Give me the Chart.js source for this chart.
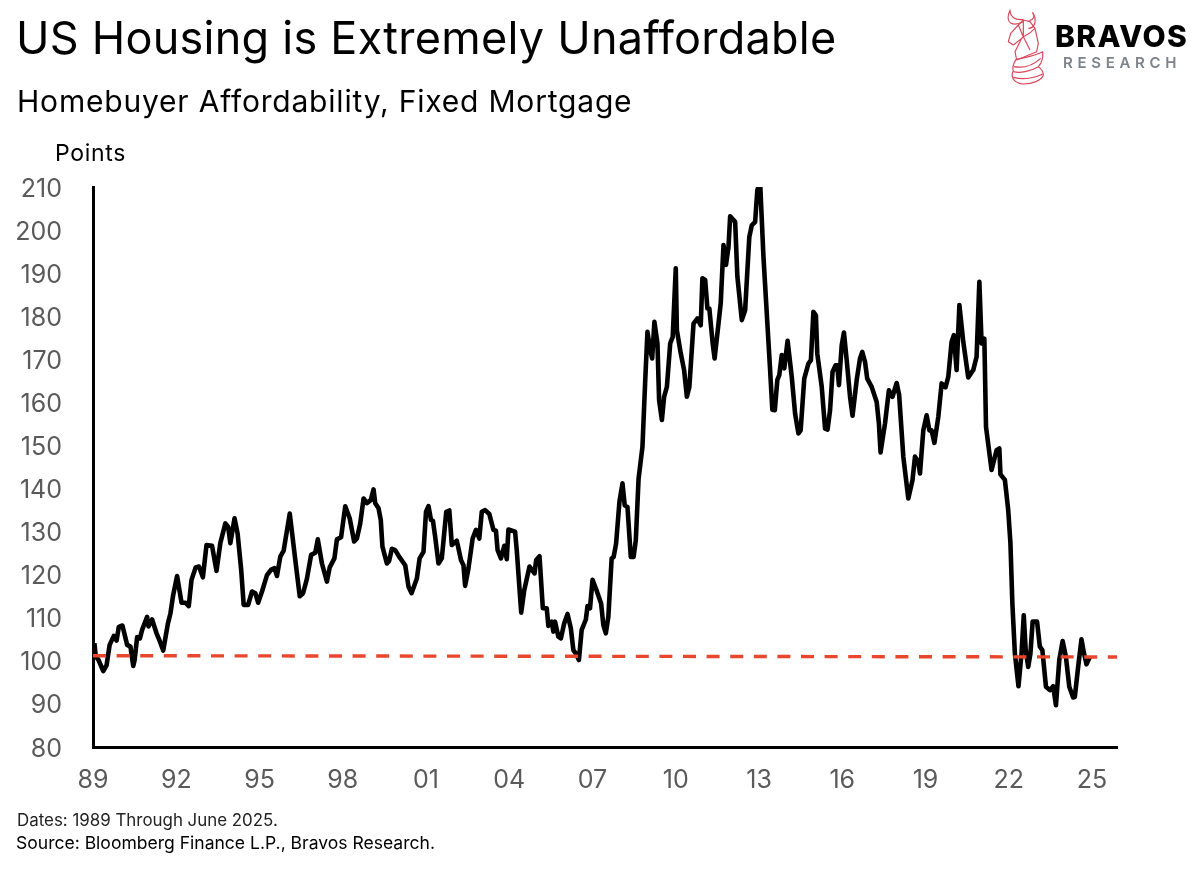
<!DOCTYPE html>
<html>
<head>
<meta charset="utf-8">
<script src="https://cdn.jsdelivr.net/npm/chart.js@4/dist/chart.umd.min.js"></script>
<style>
  html, body { margin: 0; padding: 0; background: #fff; }
  body { width: 1200px; height: 877px; position: relative; overflow: hidden; font-family: Inter, sans-serif; color: #000; }
  canvas { position: absolute; left: 0; top: 0; }
  .txt { position: absolute; white-space: nowrap; line-height: 1; }
  #title { left: 16px; top: 15px; font-size: 45px; letter-spacing: 0.25px; }
  #subtitle { left: 17px; top: 86px; font-size: 30px; letter-spacing: 0.8px; }
  #unit { left: 55px; top: 142px; font-size: 23px; letter-spacing: 0.7px; }
  #note1 { left: 17px; top: 812px; font-size: 16.9px; color: #222; }
  #note2 { left: 16px; top: 834px; font-size: 17.55px; }
  #brand { left: 1055px; top: 21px; font-size: 30px; font-weight: 800; letter-spacing: 1.3px; }
  #brand2 { left: 1063px; top: 55px; font-size: 15px; font-weight: 600; letter-spacing: 4.7px; color: #7d838a; }
  #logo { position: absolute; left: 990px; top: 0; }
</style>
</head>
<body>
<canvas id="chart" width="1200" height="877"></canvas>
<div class="txt" id="title">US Housing is Extremely Unaffordable</div>
<div class="txt" id="subtitle">Homebuyer Affordability, Fixed Mortgage</div>
<div class="txt" id="unit">Points</div>
<div class="txt" id="note1">Dates: 1989 Through June 2025.</div>
<div class="txt" id="note2">Source: Bloomberg Finance L.P., Bravos Research.</div>
<div class="txt" id="brand">BRAVOS</div>
<div class="txt" id="brand2">RESEARCH</div>
<svg id="logo" width="210" height="100" viewBox="0 0 630 300" fill="none" stroke="#d9465a" stroke-width="3.5" stroke-linejoin="round">
  <path d="M100 65 C70 80 42 72 60 30 C60 50 75 62 100 58"/>
  <path d="M118 62 C130 60 135 50 128 38 C142 60 135 85 115 85"/>
  <path d="M100 60 L120 65 L135 85 L145 130 L140 155 L80 180 L75 155 L95 115 L70 135 L55 125 L62 100 L85 75 Z"/>
  <path d="M85 75 L100 110 L95 115 M100 60 L100 110 L118 100 L135 85 M100 110 L120 150"/>
  <path d="M78 178 C100 175 140 165 158 155 C160 175 155 190 145 200 C120 215 90 220 70 215 C66 200 70 190 78 178"/>
  <path d="M72 200 C100 205 130 195 152 175"/>
  <path d="M68 215 C62 235 75 250 100 252 C130 252 155 240 160 225 C160 210 150 205 145 200"/>
  <path d="M70 232 C100 240 135 235 158 222"/>
</svg>
<script>
const years = [
  1989.05, 1989.1, 1989.2, 1989.37, 1989.49, 1989.6, 1989.75, 1989.85, 1989.93, 1990.06,
  1990.23, 1990.35, 1990.45, 1990.5, 1990.59, 1990.69, 1990.77, 1990.95, 1991.0, 1991.13,
  1991.29, 1991.41, 1991.53, 1991.7, 1991.79, 1991.89, 1992.03, 1992.19, 1992.33, 1992.45,
  1992.55, 1992.7, 1992.82, 1992.96, 1993.09, 1993.29, 1993.45, 1993.59, 1993.77, 1993.87,
  1993.95, 1994.1, 1994.21, 1994.34, 1994.43, 1994.59, 1994.73, 1994.85, 1994.95, 1995.09,
  1995.27, 1995.42, 1995.54, 1995.63, 1995.75, 1995.87, 1996.09, 1996.29, 1996.45, 1996.57,
  1996.71, 1996.86, 1997.01, 1997.1, 1997.25, 1997.43, 1997.53, 1997.7, 1997.79, 1997.94,
  1998.09, 1998.25, 1998.41, 1998.51, 1998.63, 1998.75, 1998.87, 1999.01, 1999.11, 1999.17,
  1999.29, 1999.37, 1999.43, 1999.59, 1999.67, 1999.77, 1999.89, 2000.05, 2000.25, 2000.37,
  2000.48, 2000.67, 2000.77, 2000.91, 2001.0, 2001.09, 2001.18, 2001.25, 2001.33, 2001.45,
  2001.57, 2001.73, 2001.84, 2001.93, 2002.11, 2002.26, 2002.35, 2002.41, 2002.53, 2002.68,
  2002.8, 2002.92, 2003.01, 2003.13, 2003.28, 2003.43, 2003.52, 2003.58, 2003.7, 2003.82,
  2003.91, 2003.97, 2004.21, 2004.27, 2004.43, 2004.54, 2004.73, 2004.91, 2004.97, 2005.09,
  2005.21, 2005.35, 2005.41, 2005.53, 2005.59, 2005.65, 2005.77, 2005.86, 2005.98, 2006.1,
  2006.22, 2006.31, 2006.41, 2006.51, 2006.61, 2006.76, 2006.82, 2006.91, 2007.0, 2007.15,
  2007.31, 2007.39, 2007.48, 2007.57, 2007.69, 2007.76, 2007.85, 2007.97, 2008.08, 2008.16,
  2008.26, 2008.38, 2008.48, 2008.56, 2008.66, 2008.8, 2008.9, 2008.98, 2009.08, 2009.15,
  2009.23, 2009.34, 2009.4, 2009.5, 2009.58, 2009.68, 2009.8, 2009.89, 2010.0, 2010.04,
  2010.18, 2010.3, 2010.4, 2010.49, 2010.64, 2010.78, 2010.9, 2010.96, 2011.06, 2011.14,
  2011.21, 2011.33, 2011.4, 2011.54, 2011.62, 2011.72, 2011.81, 2011.9, 2011.96, 2012.14,
  2012.22, 2012.38, 2012.5, 2012.65, 2012.74, 2012.86, 2012.94, 2013.04, 2013.16, 2013.28,
  2013.4, 2013.48, 2013.57, 2013.66, 2013.73, 2013.82, 2013.91, 2014.03, 2014.18, 2014.3,
  2014.42, 2014.5, 2014.63, 2014.78, 2014.87, 2014.96, 2015.05, 2015.1, 2015.26, 2015.38,
  2015.47, 2015.56, 2015.65, 2015.76, 2015.82, 2015.88, 2015.98, 2016.06, 2016.16, 2016.28,
  2016.37, 2016.52, 2016.64, 2016.72, 2016.82, 2016.9, 2017.06, 2017.24, 2017.32, 2017.38,
  2017.54, 2017.68, 2017.81, 2017.96, 2018.05, 2018.2, 2018.38, 2018.53, 2018.62, 2018.74,
  2018.8, 2018.92, 2019.04, 2019.14, 2019.22, 2019.32, 2019.46, 2019.58, 2019.72, 2019.82,
  2019.94, 2020.02, 2020.12, 2020.22, 2020.36, 2020.54, 2020.72, 2020.84, 2020.94, 2021.02,
  2021.12, 2021.18, 2021.38, 2021.56, 2021.66, 2021.7, 2021.86, 2021.98, 2022.06, 2022.13,
  2022.22, 2022.35, 2022.46, 2022.54, 2022.61, 2022.7, 2022.78, 2022.86, 2023.02, 2023.12,
  2023.21, 2023.34, 2023.48, 2023.6, 2023.7, 2023.82, 2023.94, 2024.06, 2024.18, 2024.32,
  2024.38, 2024.5, 2024.62, 2024.7, 2024.8, 2024.92
];
const affordability = [
  104.1, 101, 100.2, 97.6, 99, 103.7, 105.8, 104.7, 107.9, 108.2,
  103.7, 103.3, 98.8, 100.2, 105.5, 105.2, 107.2, 110.2, 108, 109.6,
  106.4, 104.5, 102.4, 108.7, 111, 115.3, 119.7, 113.5, 113.5, 112.7,
  118.8, 121.7, 121.9, 119.4, 126.9, 126.7, 120.9, 127.4, 131.9, 131.1,
  127.3, 133.1, 129.6, 121.1, 113, 113, 116.1, 115.7, 113.5, 116.1,
  119.9, 121.2, 121.5, 119.7, 124.2, 125.6, 134.2, 123.4, 115, 115.7,
  119.1, 124.6, 125.1, 128.2, 122.6, 118.4, 121.7, 123.8, 128.2, 128.7,
  135.9, 133.1, 127.7, 128.4, 131.9, 137.7, 136.6, 137.3, 139.8, 136.6,
  135.4, 132.7, 126.5, 122.6, 123.2, 126, 125.7, 124, 122.2, 117.2,
  115.7, 119.1, 123.8, 125.3, 134.6, 135.9, 132.7, 132.5, 128.8, 122.6,
  123.8, 134.6, 134.9, 126.9, 127.9, 123.4, 122.2, 117.4, 121.5, 128.4,
  130.4, 128.4, 134.6, 135, 134.1, 130.4, 130.2, 125.7, 123.8, 126.7,
  123.6, 130.5, 130, 125.7, 111.2, 116.4, 121.9, 120.3, 123.4, 124.3,
  112.2, 112.2, 108.1, 109.1, 106.8, 109.1, 105.6, 105.2, 108.7, 110.9,
  107.5, 102.5, 101.6, 100.2, 107.2, 109.6, 112.7, 112.2, 118.8, 116.3,
  113.3, 108.3, 106.4, 110.2, 123.8, 124.1, 127.2, 136.9, 141.2, 136.1,
  135.7, 124.1, 124.1, 128, 142.3, 149.7, 165.2, 176.4, 172.1, 170.2,
  178.7, 173.7, 160.5, 155.9, 161.3, 163.6, 173.7, 175.2, 191.1, 176.8,
  171.4, 167.5, 161.3, 163.6, 178.3, 179.5, 177.9, 188.8, 188.4, 181.8,
  181.8, 173.7, 170.2, 178.3, 183, 196.5, 191.9, 196.1, 203.2, 201.9,
  189.2, 179.1, 181.4, 198.4, 201.1, 201.9, 209.3, 211, 193.8, 180.6,
  167.5, 158.3, 158.2, 165.2, 166.3, 171, 167.9, 174.3, 165.9, 157.4,
  152.8, 153.5, 165.5, 169, 169.8, 181, 180.2, 171.3, 163.6, 153.9,
  153.7, 158.2, 167.1, 168.6, 168.6, 164, 173.3, 176.2, 169.8, 161.3,
  156.9, 165.2, 170.2, 171.7, 169.4, 165.5, 163.6, 160.1, 155.1, 148.4,
  155.1, 162.8, 161.3, 164.5, 161.7, 147.4, 137.7, 141.9, 147.4, 146.2,
  143.5, 153.5, 157, 153.5, 153.5, 150.6, 156.6, 164.4, 163.5, 165.9,
  174.1, 175.6, 167.5, 182.6, 174.1, 165.8, 167.5, 170.6, 188, 173.7,
  174.8, 154.3, 144.3, 148.9, 149.3, 143.3, 142, 135, 127.3, 113.3,
  101.7, 94.1, 101.7, 110.6, 102.5, 98.6, 101.7, 109.1, 109.1, 103.3,
  102.5, 94, 93.2, 94.1, 89.7, 100.2, 104.6, 100.9, 94, 91.5,
  91.6, 98.6, 105, 102.1, 99.2, 100.9
];
const refYears = [1989, 2025.9];
const refValues = [101.2, 100.9];
const xTickYears = [1989, 1992, 1995, 1998, 2001, 2004, 2007, 2010, 2013, 2016, 2019, 2022, 2025];
const xTickLabels = ['89', '92', '95', '98', '01', '04', '07', '10', '13', '16', '19', '22', '25'];

new Chart(document.getElementById('chart').getContext('2d'), {
  type: 'line',
  data: {
    datasets: [
      {
        data: refYears.map((x, i) => ({ x, y: refValues[i] })),
        borderColor: '#e8472e',
        borderWidth: 3.4,
        borderDash: [13, 10.6],
        pointRadius: 0,
        order: 1,
      },
      {
        data: years.map((x, i) => ({ x, y: affordability[i] })),
        borderColor: '#000',
        borderWidth: 4.6,
        borderJoinStyle: 'round',
        pointRadius: 0,
        tension: 0,
        order: 2,
      },
    ],
  },
  options: {
    responsive: false,
    animation: false,
    layout: { padding: { top: 187, right: 83, left: 0, bottom: 0 } },
    plugins: { legend: { display: false }, tooltip: { enabled: false } },
    scales: {
      x: {
        type: 'linear',
        min: 1989,
        max: 2025.9,
        grid: { display: false },
        border: { color: '#000', width: 3 },
        afterBuildTicks: s => { s.ticks = xTickYears.map(value => ({ value })); },
        afterFit: s => { s.height = 130; },
        ticks: {
          autoSkip: false,
          maxRotation: 0,
          padding: 10,
          color: '#5a5a5a',
          font: { family: 'Inter', size: 25 },
          callback: v => xTickLabels[xTickYears.indexOf(v)],
        },
      },
      y: {
        min: 80,
        max: 210,
        grid: { display: false },
        border: { color: '#000', width: 3 },
        afterFit: s => { s.width = 93; },
        ticks: {
          stepSize: 10,
          padding: 23,
          labelOffset: 2,
          color: '#5a5a5a',
          font: { family: 'Inter', size: 25 },
        },
      },
    },
  },
});
</script>
</body>
</html>
